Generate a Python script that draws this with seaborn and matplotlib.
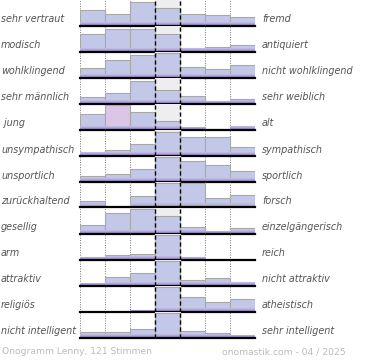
import numpy as np
import pandas as pd
import matplotlib.pyplot as plt
import seaborn as sns

# pole labels of each semantic scale
left_labels = ['sehr vertraut', 'modisch', 'wohlklingend', 'sehr männlich', ' jung',
               'unsympathisch', 'unsportlich', 'zurückhaltend', 'gesellig', 'arm',
               'attraktiv', 'religiös', 'nicht intelligent']
right_labels = ['fremd', 'antiquiert', 'nicht wohlklingend', 'sehr weiblich', 'alt',
                'sympathisch', 'sportlich', 'forsch', 'einzelgängerisch', 'reich',
                'nicht attraktiv', 'atheistisch', 'sehr intelligent']

# relative vote share on the 7 steps (25 = tallest bar)
vertraut = [16, 12, 24, 18, 12, 11, 9]
modisch = [18, 23, 23, 18, 3.5, 5, 6.5]
wohlklingend = [10, 18, 23, 24.5, 11, 8.5, 13]
maennlich = [7, 11, 23, 14, 7.5, 2.5, 4.5]
jung = [16, 25, 18, 9, 2.5, 0.5, 4]
unsympathisch = [4, 5.5, 11.5, 24, 19, 19, 9]
unsportlich = [6, 8, 13, 25, 20.5, 17, 10.5]
zurueckhaltend = [6, 0, 11, 24.5, 24.5, 9, 12]
gesellig = [9, 21, 25, 18, 7, 3, 5.5]
arm = [3, 5, 6, 25, 2.5, 0, 0]
attraktiv = [3, 9, 12.5, 25, 5.5, 7.5, 4]
religioes = [0, 0, 1.5, 25, 15, 9.5, 13]
intelligent = [5.5, 5.5, 9, 25, 6.5, 4.5, 2.5]

rows = [vertraut, modisch, wohlklingend, maennlich, jung, unsympathisch, unsportlich,
        zurueckhaltend, gesellig, arm, attraktiv, religioes, intelligent]
steps = list(range(7))

footer_left = 'Onogramm Lenny, 121 Stimmen'
footer_right = 'onomastik.com - 04 / 2025'

sns.set_style('white')
plt.rcParams['font.family'] = ['DejaVu Sans']

W, H = 370, 360
fig = plt.figure(figsize=(W / 100, H / 100), dpi=100)

bar_color = '#c4c8e8'
pink = '#dcc6e6'
label_col = '#555555'
# bottom shading of the bars (fake gradient)
bands = [(4.0, '#bdb9e0'), (2.6, '#b1a8d6'), (1.4, '#a496cb')]

for i, vals in enumerate(rows):
    base = 25.5 + 26 * i
    ax = fig.add_axes([80 / W, 1 - base / H, 175 / W, 26 / H])
    df = pd.DataFrame({'step': steps, 'share': vals})
    colors = [bar_color] * 7
    if i == 4:
        colors[1] = pink
    ax.axvspan(2.5, 3.5, color='#eeeeee', zorder=0)
    sns.barplot(data=df, x='step', y='share', hue='step', palette=colors, legend=False,
                width=1, edgecolor='#a8a8a8', linewidth=0.8, saturation=1, ax=ax, zorder=2)
    for k, (bh, bc) in enumerate(bands):
        df['band'] = np.minimum(df['share'], bh)
        sns.barplot(data=df, x='step', y='band', color=bc, width=0.985, linewidth=0,
                    saturation=1, ax=ax, zorder=3 + k * 0.1)
    for xv in [-0.5, 0.5, 1.5, 4.5, 5.5, 6.5]:
        ax.axvline(xv, color='#777777', ls=(0, (1, 1.5)), lw=0.7, zorder=1)
    for xv in [2.5, 3.5]:
        ax.axvline(xv, color='black', ls=(0, (3, 2)), lw=1.0, zorder=4)
    ax.set_xlim(-0.5, 6.5)
    ax.set_ylim(0, 26)
    ax.set_xticks([])
    ax.set_yticks([])
    ax.set_xlabel('')
    ax.set_ylabel('')
    for s in ['top', 'left', 'right']:
        ax.spines[s].set_visible(False)
    ax.spines['bottom'].set_color('black')
    ax.spines['bottom'].set_linewidth(1.6)
    ax.spines['bottom'].set_zorder(5)
    ax.patch.set_alpha(0)

    ty = 1 - (base - 6) / H
    fig.text(1 / W, ty, left_labels[i], ha='left', va='center', style='italic',
             color=label_col, fontsize=6.9)
    fig.text(262 / W, ty, right_labels[i], ha='left', va='center', style='italic',
             color=label_col, fontsize=6.9)

fig.text(2 / W, 1 - 352 / H, footer_left, ha='left', va='center', color='#bbbbbb', fontsize=6.6)
fig.text(346 / W, 1 - 352 / H, footer_right, ha='right', va='center', color='#bbbbbb', fontsize=6.6)

fig.savefig('out.png', dpi=100)
